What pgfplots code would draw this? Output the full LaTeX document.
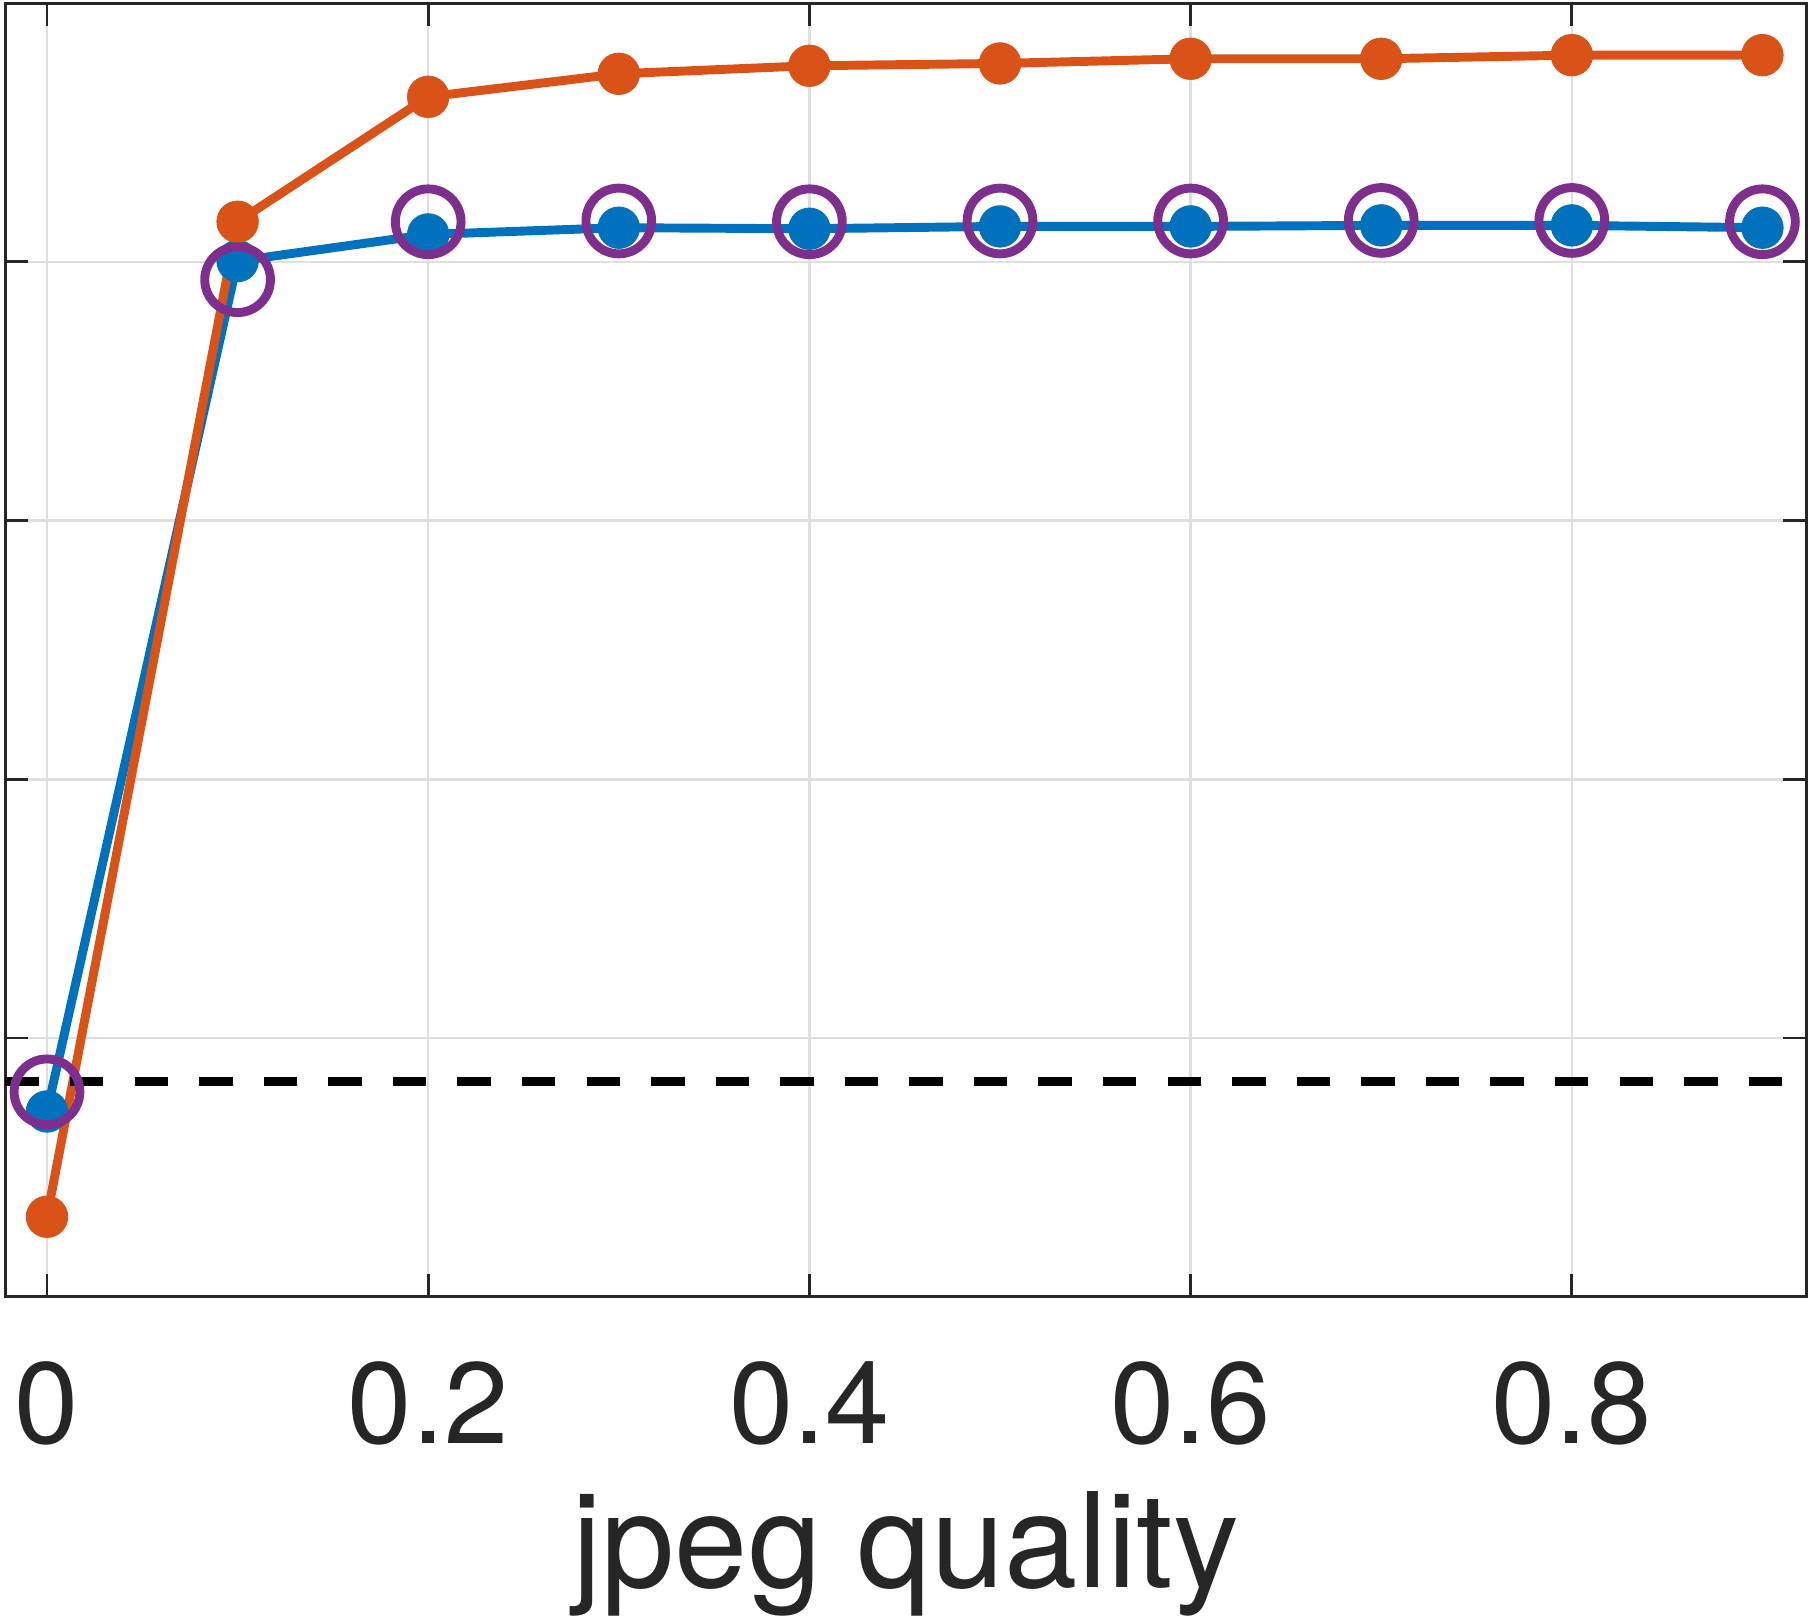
\documentclass[border={0.05mm 0.2mm 0.25mm 0.15mm}]{standalone}
\usepackage{pgfplots}
\pgfplotsset{compat=1.18}
\usepackage{fontspec}
\setmainfont{TeX Gyre Heros}
\definecolor{mblue}{RGB}{0,114,189}
\definecolor{morange}{RGB}{217,83,25}
\definecolor{mpurple}{RGB}{126,47,142}
\definecolor{tgray}{RGB}{38,38,38}
\begin{document}
\begin{tikzpicture}
\begin{axis}[
  scale only axis, width=156.2mm, height=112.2mm,
  xmin=-0.0218, xmax=0.923, ymin=0, ymax=5,
  xtick={0,0.2,0.4,0.6,0.8}, ytick={1,2,3,4}, yticklabels={},
  yticklabel style={inner sep=0pt, outer sep=0pt},
  grid=major, grid style={gray!25, line width=0.6pt},
  tick align=inside, major tick length=2mm,
  axis line style={tgray, line width=0.7pt},
  tick style={tgray, line width=0.7pt},
  /pgf/number format/assume math mode=true,
  xticklabel style={font=\fontsize{28.5}{30}\selectfont, text=tgray, inner sep=0pt, anchor=north},
  xticklabel shift=5.6mm,
  xlabel={jpeg quality},
  xlabel style={font=\fontsize{32.5}{35}\selectfont, text=tgray, inner sep=0pt, at={(axis description cs:0.5,0)}, anchor=base, yshift=-25.2mm},
  clip=false,
]
\addplot[mblue, line width=2.2pt, mark=*, mark size=1.8mm, mark options={solid, fill=mblue, line width=0.2pt}] coordinates {
(0,0.716) (0.1,4.003) (0.2,4.106) (0.3,4.132) (0.4,4.128) (0.5,4.137) (0.6,4.137) (0.7,4.141) (0.8,4.141) (0.9,4.132)};
\addplot[morange, line width=2.2pt, mark=*, mark size=1.8mm, mark options={solid, fill=morange, line width=0.2pt}] coordinates {
(0,0.309) (0.1,4.155) (0.2,4.638) (0.3,4.727) (0.4,4.758) (0.5,4.767) (0.6,4.785) (0.7,4.785) (0.8,4.799) (0.9,4.799)};
\addplot[only marks, mpurple, mark=o, mark size=2.85mm, mark options={line width=2.2pt}] coordinates {
(0,0.792) (0.1,3.931) (0.2,4.155) (0.3,4.158) (0.4,4.155) (0.5,4.158) (0.6,4.158) (0.7,4.160) (0.8,4.160) (0.9,4.155)};
\addplot[black, line width=2.4pt, dash pattern=on 2.9mm off 2.7mm] coordinates {(-0.0218,0.832) (0.923,0.832)};
\end{axis}
\end{tikzpicture}
\end{document}
